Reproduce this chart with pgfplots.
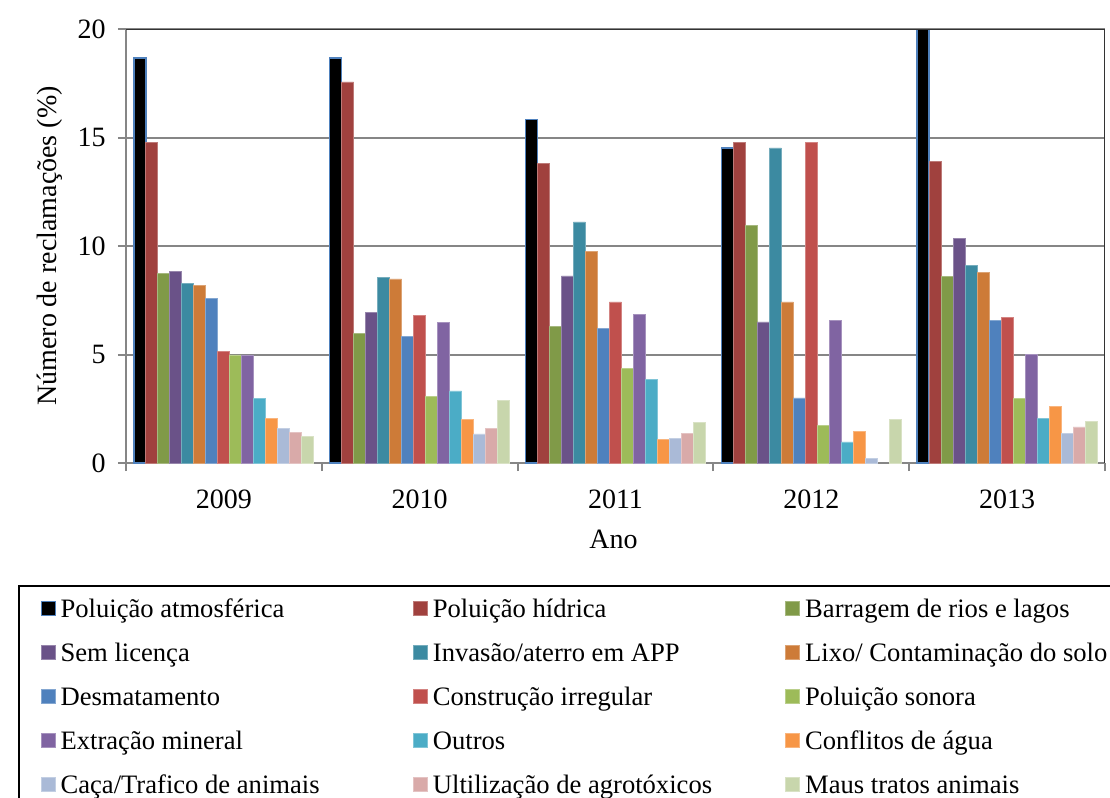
\documentclass[border=0pt]{standalone}
\usepackage{fontspec}
\setmainfont{Liberation Serif}
\usepackage{pgfplots}
\usepackage{pgfplotstable}
\pgfplotsset{compat=1.18}

\definecolor{cAtmB}{RGB}{79,129,189}
\definecolor{cHid}{RGB}{160,65,62}
\definecolor{cBar}{RGB}{128,154,72}
\definecolor{cSem}{RGB}{106,82,136}
\definecolor{cInv}{RGB}{60,138,161}
\definecolor{cLix}{RGB}{205,123,56}
\definecolor{cDes}{RGB}{79,129,189}
\definecolor{cCon}{RGB}{192,80,77}
\definecolor{cSon}{RGB}{157,187,89}
\definecolor{cExt}{RGB}{128,100,162}
\definecolor{cOut}{RGB}{75,172,198}
\definecolor{cCfl}{RGB}{247,150,70}
\definecolor{cCac}{RGB}{170,186,215}
\definecolor{cAgr}{RGB}{217,170,169}
\definecolor{cMau}{RGB}{200,214,172}
\definecolor{gridgray}{RGB}{134,134,134}

\pgfplotstableread{
x s1 s2 s3 s4 s5 s6 s7 s8 s9 s10 s11 s12 s13 s14 s15
0 18.66 14.79 8.72 8.83 8.29 8.19 7.57 5.16 4.98 4.98 2.96 2.04 1.61 1.41 1.21
1 18.66 17.56 5.96 6.94 8.54 8.48 5.82 6.82 3.06 6.48 3.32 2.00 1.34 1.61 2.87
2 15.82 13.82 6.30 8.62 11.11 9.74 6.21 7.42 4.36 6.85 3.87 1.08 1.15 1.38 1.86
3 14.52 14.78 10.94 6.50 14.52 7.42 3.00 14.78 1.74 6.59 0.97 1.47 0.20 nan 2.00
4 20.50 13.90 8.60 10.35 9.09 8.80 6.59 6.70 2.98 5.01 2.04 2.60 1.35 1.66 1.90
}\data

\pgfplotsset{
  sq/.style={legend image code/.code={\draw[##1,line width=0.4pt] (0pt,-3.5pt) rectangle (7pt,3.5pt);}},
  bb/.style={fill=#1, draw=#1!70!white, line width=0.4pt, sq},
}
\newcommand{\lgd}[1]{\addlegendentry{\makebox[176.25pt][l]{#1}}}

\begin{document}
\begin{tikzpicture}
\begin{axis}[
  scale only axis, width=489.5pt, height=217pt,
  xmin=-0.5, xmax=4.5, ymin=0, ymax=20,
  ybar=0pt, bar width=6pt,
  axis x line*=bottom, axis y line*=left,
  axis line style={draw=gridgray, line width=1pt},
  tick align=outside,
  xtick={0,1,2,3,4},
  xticklabels={2009,2010,2011,2012,2013},
  major x tick style={draw=none},
  minor xtick={-0.5,0.5,1.5,2.5,3.5,4.5},
  minor tick length=4pt,
  minor x tick style={draw=gridgray, line width=1pt},
  ytick={0,5,10,15,20},
  major tick length=4pt,
  major y tick style={draw=gridgray, line width=1pt},
  ymajorgrids,
  grid style={draw=gridgray, line width=1pt},
  /pgf/number format/assume math mode=true,
  tick label style={font=\fontsize{14}{16}\selectfont},
  x tick label style={anchor=center, yshift=-14pt},
  y tick label style={anchor=east, inner sep=0pt, xshift=-6pt},
  xlabel={Ano},
  ylabel={Número de reclamações (\%)},
  every axis x label/.style={at={(axis description cs:0.498,-0.175)}, anchor=center, font=\fontsize{14}{16}\selectfont},
  every axis y label/.style={at={(axis description cs:-0.0776,0.5)}, rotate=90, anchor=center, font=\fontsize{14}{16}\selectfont},
  legend columns=3,
  legend style={at={(axis description cs:-0.1103,-0.2811)}, anchor=north west,
    draw=black, line width=0.8pt, fill=white,
    inner xsep=11pt, inner ysep=5.9pt,
    column sep=0pt, row sep=10.8pt,
    font=\fontsize{13.3}{16}\selectfont,
    nodes={inner sep=0pt, text height=10pt, text depth=1.2pt},
    /tikz/every odd column/.append style={column sep=2.5pt}},
]
\addplot[fill=black, draw=cAtmB, line width=0.7pt, sq] table[x=x,y=s1]{\data}; \lgd{Poluição atmosférica}
\addplot[bb=cHid] table[x=x,y=s2]{\data}; \lgd{Poluição hídrica}
\addplot[bb=cBar] table[x=x,y=s3]{\data}; \lgd{Barragem de rios e lagos}
\addplot[bb=cSem] table[x=x,y=s4]{\data}; \lgd{Sem licença}
\addplot[bb=cInv] table[x=x,y=s5]{\data}; \lgd{Invasão/aterro em APP}
\addplot[bb=cLix] table[x=x,y=s6]{\data}; \lgd{Lixo/ Contaminação do solo}
\addplot[bb=cDes] table[x=x,y=s7]{\data}; \lgd{Desmatamento}
\addplot[bb=cCon] table[x=x,y=s8]{\data}; \lgd{Construção irregular}
\addplot[bb=cSon] table[x=x,y=s9]{\data}; \lgd{Poluição sonora}
\addplot[bb=cExt] table[x=x,y=s10]{\data}; \lgd{Extração mineral}
\addplot[bb=cOut] table[x=x,y=s11]{\data}; \lgd{Outros}
\addplot[bb=cCfl] table[x=x,y=s12]{\data}; \lgd{Conflitos de água}
\addplot[bb=cCac] table[x=x,y=s13]{\data}; \lgd{Caça/Trafico de animais}
\addplot[bb=cAgr] table[x=x,y=s14]{\data}; \lgd{Ultilização de agrotóxicos}
\addplot[bb=cMau] table[x=x,y=s15]{\data}; \lgd{Maus tratos animais}
\draw[black!80, line width=1pt] (rel axis cs:0,1) -- (rel axis cs:1,1) -- (rel axis cs:1,0);
\end{axis}
\pgfresetboundingbox
\useasboundingbox (-63pt,-167.5pt) rectangle (492pt,231.5pt);
\end{tikzpicture}
\end{document}
